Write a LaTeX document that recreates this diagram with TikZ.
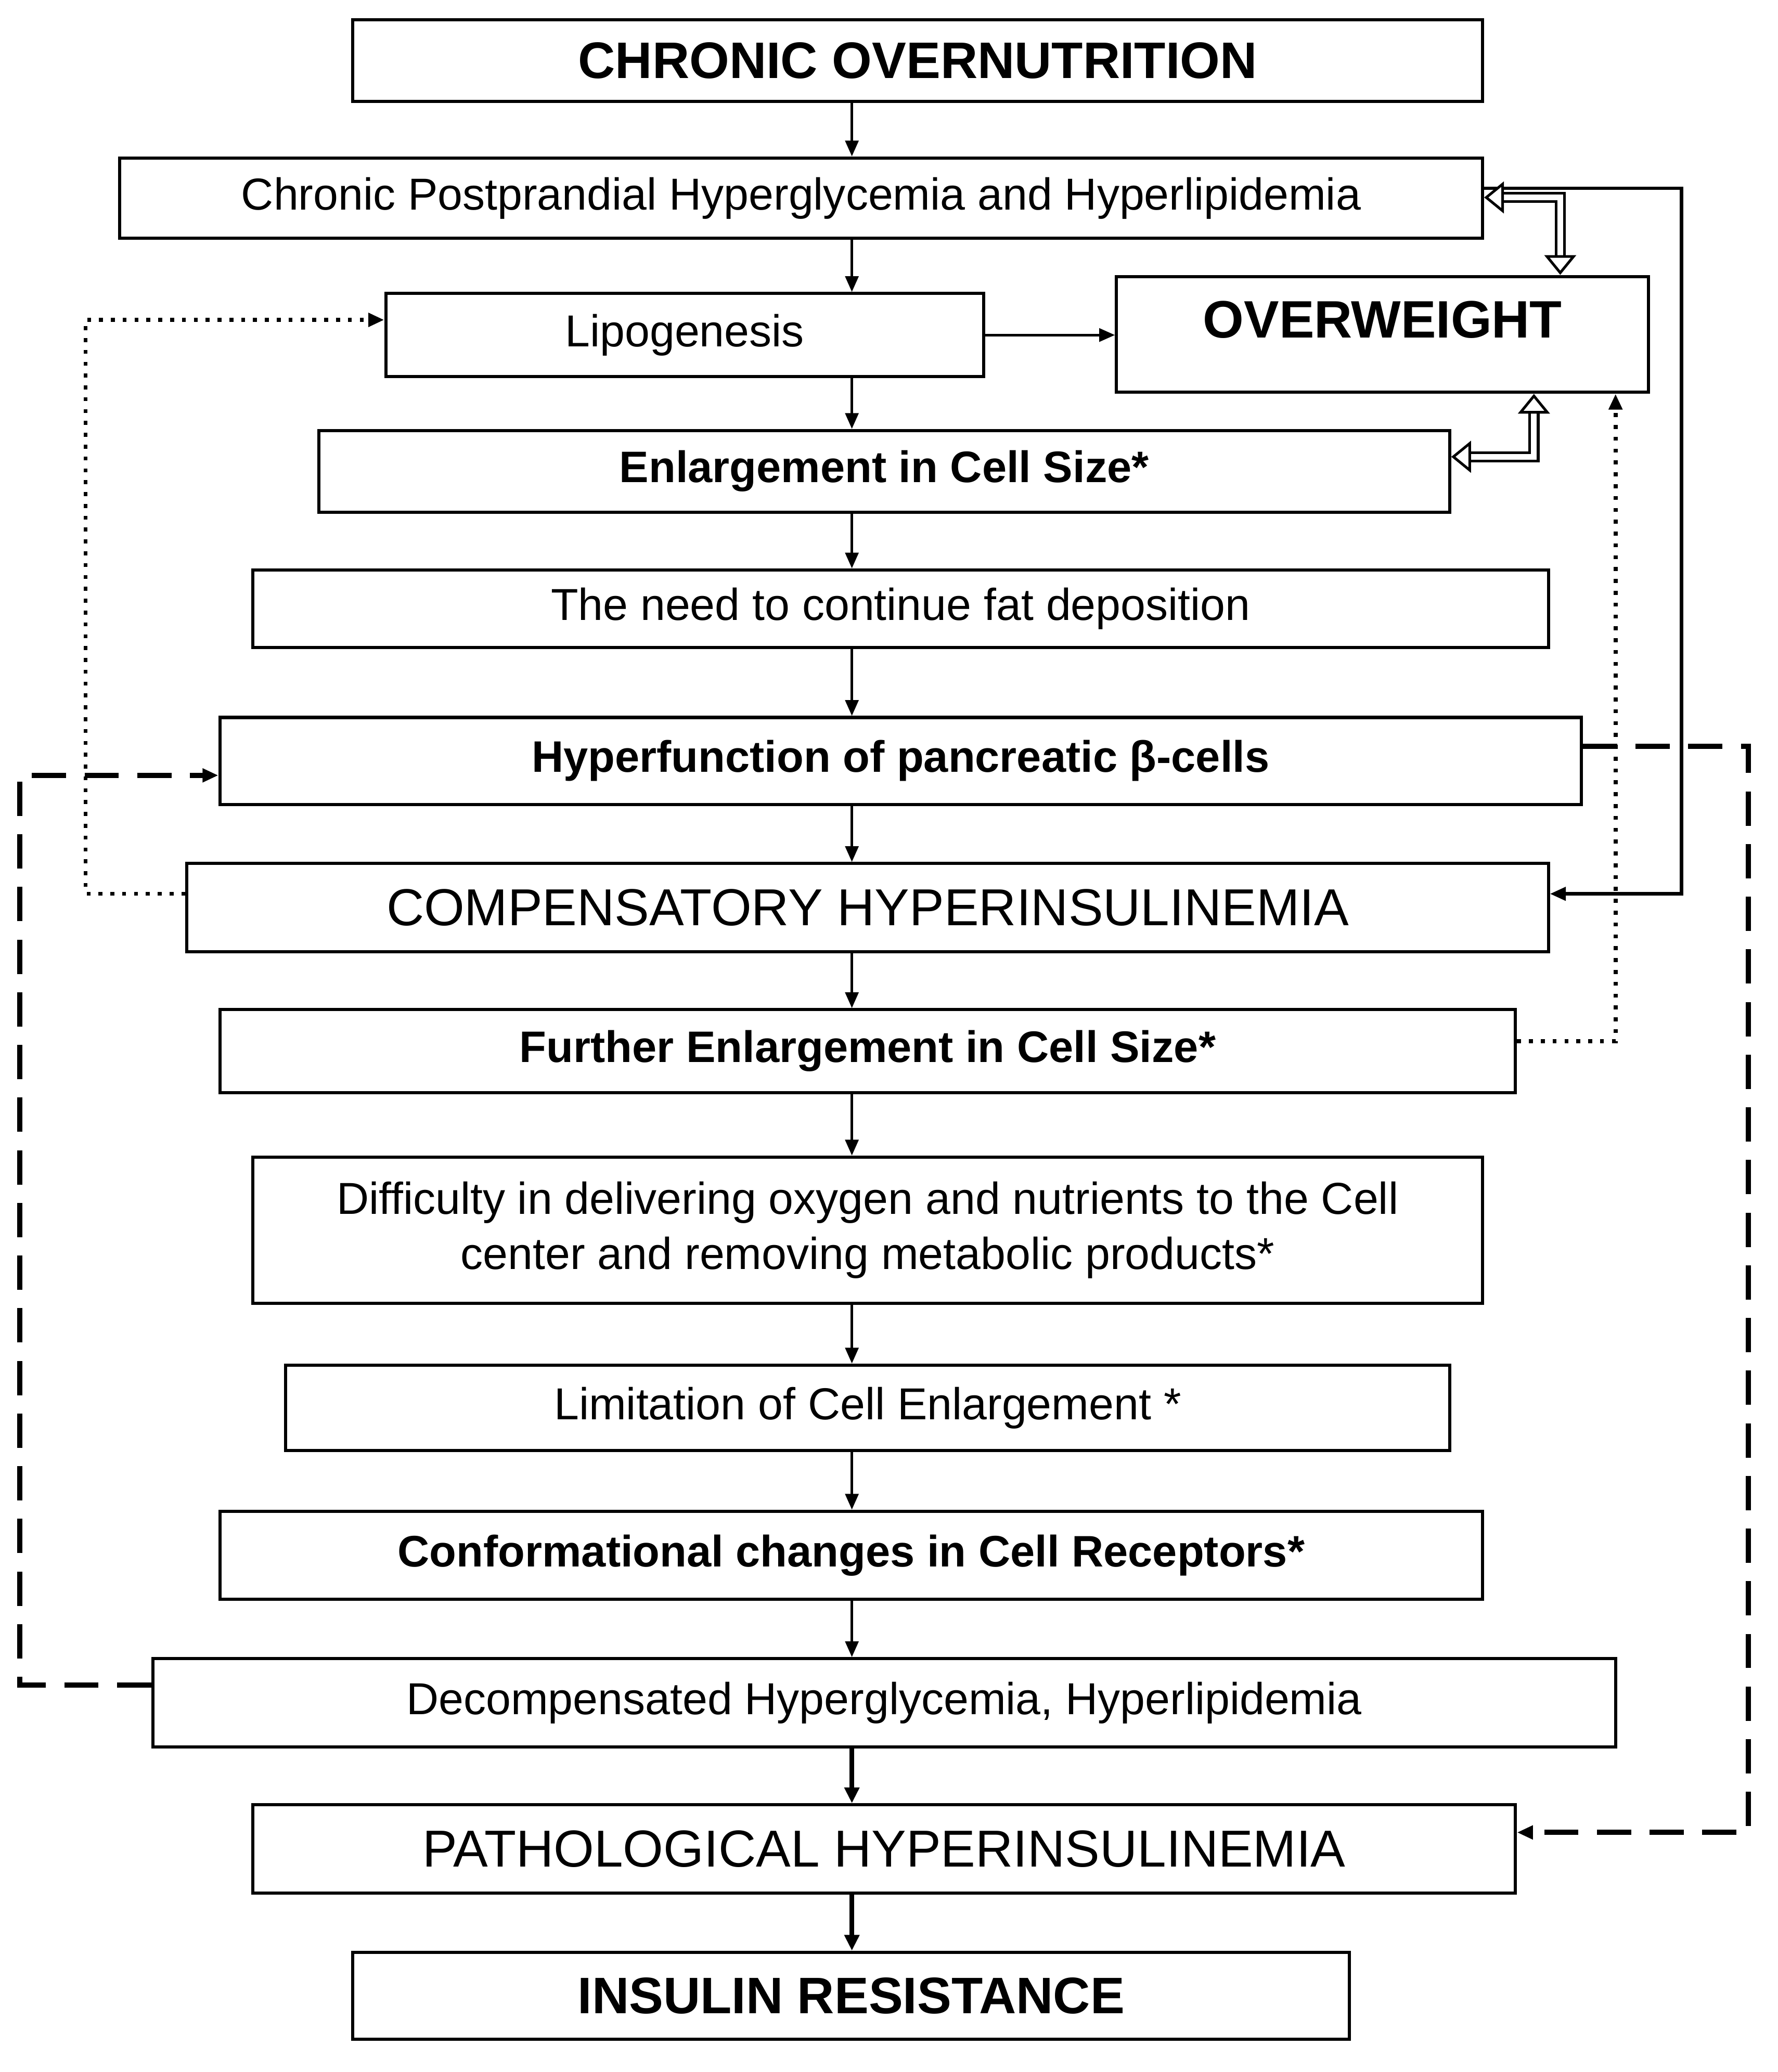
\documentclass[tikz,border=0pt]{standalone}
\usepackage{fontspec}
\setmainfont{Liberation Sans}
\usetikzlibrary{arrows.meta}
\begin{document}
\begin{tikzpicture}[x=1pt,y=-1pt,
 box/.style={draw,line width=2.4pt,inner sep=0pt,align=center,font=\fontsize{34}{42}\selectfont},
 bbox/.style={box,font=\fontsize{33.5}{42}\selectfont\bfseries},
 big/.style={box,font=\fontsize{39.5}{46}\selectfont},
 bigb/.style={box,font=\fontsize{39}{46}\selectfont\bfseries},
 arr/.style={line width=2pt,-{Triangle[length=12pt,width=10pt]}},
 tarr/.style={line width=3.6pt,-{Triangle[length=12pt,width=11pt]}},
 dbl/.style={draw=black,line width=2pt,double=white,double distance=4.5pt,
   {Triangle[length=15pt,width=24pt,fill=white,line width=2pt]}-{Triangle[length=15pt,width=24pt,fill=white,line width=2pt]}}]
\useasboundingbox (0,0) rectangle (1350,1574);
\coordinate (ax) at (647,0);
\node[bigb,minimum width=858,minimum height=62] (n1) at (697,46) {CHRONIC OVERNUTRITION};
\node[box,minimum width=1035,minimum height=61] (n2) at (608.5,150.5) {Chronic Postprandial Hyperglycemia and Hyperlipidemia};
\node[box,minimum width=454,minimum height=63] (n3) at (520,254.5) {Lipogenesis};
\node[box,minimum width=404,minimum height=88] (n4) at (1050,254) {};
\node[font=\fontsize{40}{46}\selectfont\bfseries] (n4t) at (1050,243) {OVERWEIGHT};
\node[bbox,minimum width=859,minimum height=62] (n5) at (671.5,358) {Enlargement in Cell Size*};
\node[box,minimum width=984,minimum height=59] (n6) at (684,462.5) {The need to continue fat deposition};
\node[bbox,minimum width=1034,minimum height=66] (n7) at (684,578) {Hyperfunction of pancreatic β-cells};
\node[big,minimum width=1034,minimum height=67] (n8) at (659,689.5) {COMPENSATORY HYPERINSULINEMIA};
\node[bbox,minimum width=984,minimum height=63] (n9) at (659,798.5) {Further Enlargement in Cell Size*};
\node[box,minimum width=934,minimum height=111] (n10) at (659,934.5) {Difficulty in delivering oxygen and nutrients to the Cell\\center and removing metabolic products*};
\node[box,minimum width=884,minimum height=65] (n11) at (659,1069.5) {Limitation of Cell Enlargement *};
\node[bbox,minimum width=959,minimum height=67] (n12) at (646.5,1181.5) {Conformational changes in Cell Receptors*};
\node[box,minimum width=1111,minimum height=67] (n13) at (671.5,1293.5) {Decompensated Hyperglycemia, Hyperlipidemia};
\node[big,minimum width=959,minimum height=67] (n14) at (671.5,1404.5) {PATHOLOGICAL HYPERINSULINEMIA};
\node[bigb,minimum width=757,minimum height=66] (n15) at (646.5,1516) {INSULIN RESISTANCE};
% vertical arrows
\foreach \a/\b in {n1/n2,n2/n3,n3/n5,n5/n6,n6/n7,n7/n8,n8/n9,n9/n10,n10/n11,n11/n12,n12/n13}
  \draw[arr] (\a.south -| ax) -- (\b.north -| ax);
\draw[tarr] (n13.south -| ax) -- (n14.north -| ax);
\draw[tarr] (n14.south -| ax) -- (n15.north -| ax);
\draw[arr] (n3.east) -- (n4.west |- n3.east);
% solid feedback
\draw[arr,line width=2.6pt] (n2.east |- 0,143) -- (1277,143) -- (1277,679) -- (n8.east |- 0,679);
% double arrows
\draw[dbl] (n2.east |- 0,150) -- (1185,150) -- (n4.north -| 1185,0);
\draw[dbl] (n5.east |- 0,347) -- (1165,347) -- (n4.south -| 1165,0);
% dotted
\draw[arr,line width=3pt,dash pattern=on 3pt off 6pt] (n9.east |- 0,791) -- (1227,791) -- (n4.south -| 1227,0);
\draw[arr,line width=3pt,dash pattern=on 3pt off 6pt] (n8.west |- 0,679) -- (65,679) -- (65,243) -- (n3.west |- 0,243);
% dashed
\draw[arr,dash pattern=on 26pt off 14pt,line width=4pt] (n13.west |- 0,1280) -- (15,1280) -- (15,589) -- (n7.west |- 0,589);
\draw[arr,dash pattern=on 26pt off 14pt,line width=4pt] (n7.east |- 0,567) -- (1328,567) -- (1328,1392) -- (n14.east |- 0,1392);
\end{tikzpicture}
\end{document}
